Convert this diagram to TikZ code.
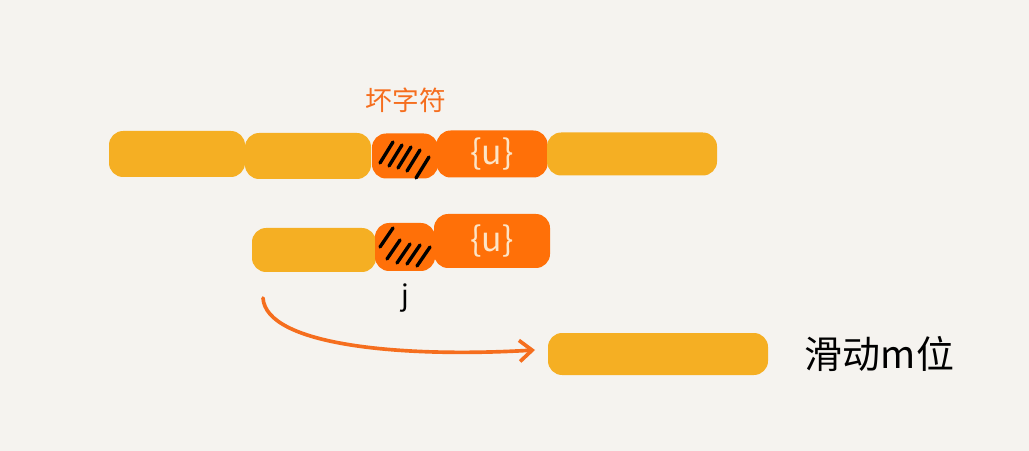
\documentclass[tikz,border=0pt]{standalone}
\usepackage{fontspec}
\newfontfamily\cjk{Noto Sans CJK SC}
\newfontfamily\cjklight{Noto Sans CJK SC Light}
\usepackage{tikz,xcolor}
\usetikzlibrary{arrows.meta}
\definecolor{paper}{HTML}{F5F3EF}
\definecolor{yblk}{HTML}{F5AF23}
\definecolor{oblk}{HTML}{FF7008}
\definecolor{olbl}{HTML}{F56E1E}
\definecolor{cream}{HTML}{FCE4C6}
\tikzset{
  blk/.style 2 args={rectangle,rounded corners=10pt,inner sep=0pt,
    minimum width=#1*0.025cm,minimum height=#2*0.025cm},
  yb/.style={fill=yblk},
  ob/.style={fill=oblk,text=cream,font=\cjk\fontsize{24}{25}\selectfont},
  hatch/.style={black,line width=2.4pt,line cap=round},
}
\begin{document}
\begin{tikzpicture}[x=0.025cm,y=-0.025cm]
\fill[paper] (0,0) rectangle (1029,451);
\useasboundingbox (0,0) rectangle (1029,451);
% top row
\node[blk={136}{46},yb] (a1) at (177,154) {};
\node[blk={126}{46},yb] (a2) at (308,156) {};
\node[blk={66}{45},ob] (a3) at (405,156) {};
\node[blk={111}{47},ob] (a4) at (492,154) {\{u\}};
\node[blk={170}{43},yb] (a5) at (632,154) {};
\node[text=olbl,font=\cjk\fontsize{19}{20}\selectfont] (bad) at (406,100) {坏字符};
\begin{scope}[shift={(a3.center)}]
\foreach \a/\b in {-25/7, -16/10, -7/12, 2/15, 11/22}
  \draw[hatch] (\a,\b) -- ++(13,-21);
\end{scope}
% second row
\node[blk={124}{44},yb] (b1) at (314,250) {};
\node[blk={60}{48},ob] (b2) at (405,247) {};
\node[blk={116}{54},ob] (b3) at (492,241) {\{u\}};
\node[font=\cjk\fontsize{20}{22}\selectfont] (j) at (405,298) {j};
\begin{scope}[shift={(b2.center)}]
\foreach \a/\b in {-25/0, -18/12, -8/16, 2/17, 12/19}
  \draw[hatch] (\a,\b) -- ++(13,-19);
\end{scope}
% shifted block
\node[blk={220}{42},yb] (c1) at (658,354) {};
\node[anchor=west,font=\cjk\fontsize{27}{28}\selectfont] (mv) at (800,354) {滑动m位};
\coordinate (from) at (263,298);
\coordinate (to) at (535,350);
\draw[olbl,line width=2.6pt,line cap=round,-{Straight Barb[length=9pt,width=15pt,line width=2.6pt]}]
  (from) .. controls (266,345) and (400,358) .. (to);
\end{tikzpicture}
\end{document}
